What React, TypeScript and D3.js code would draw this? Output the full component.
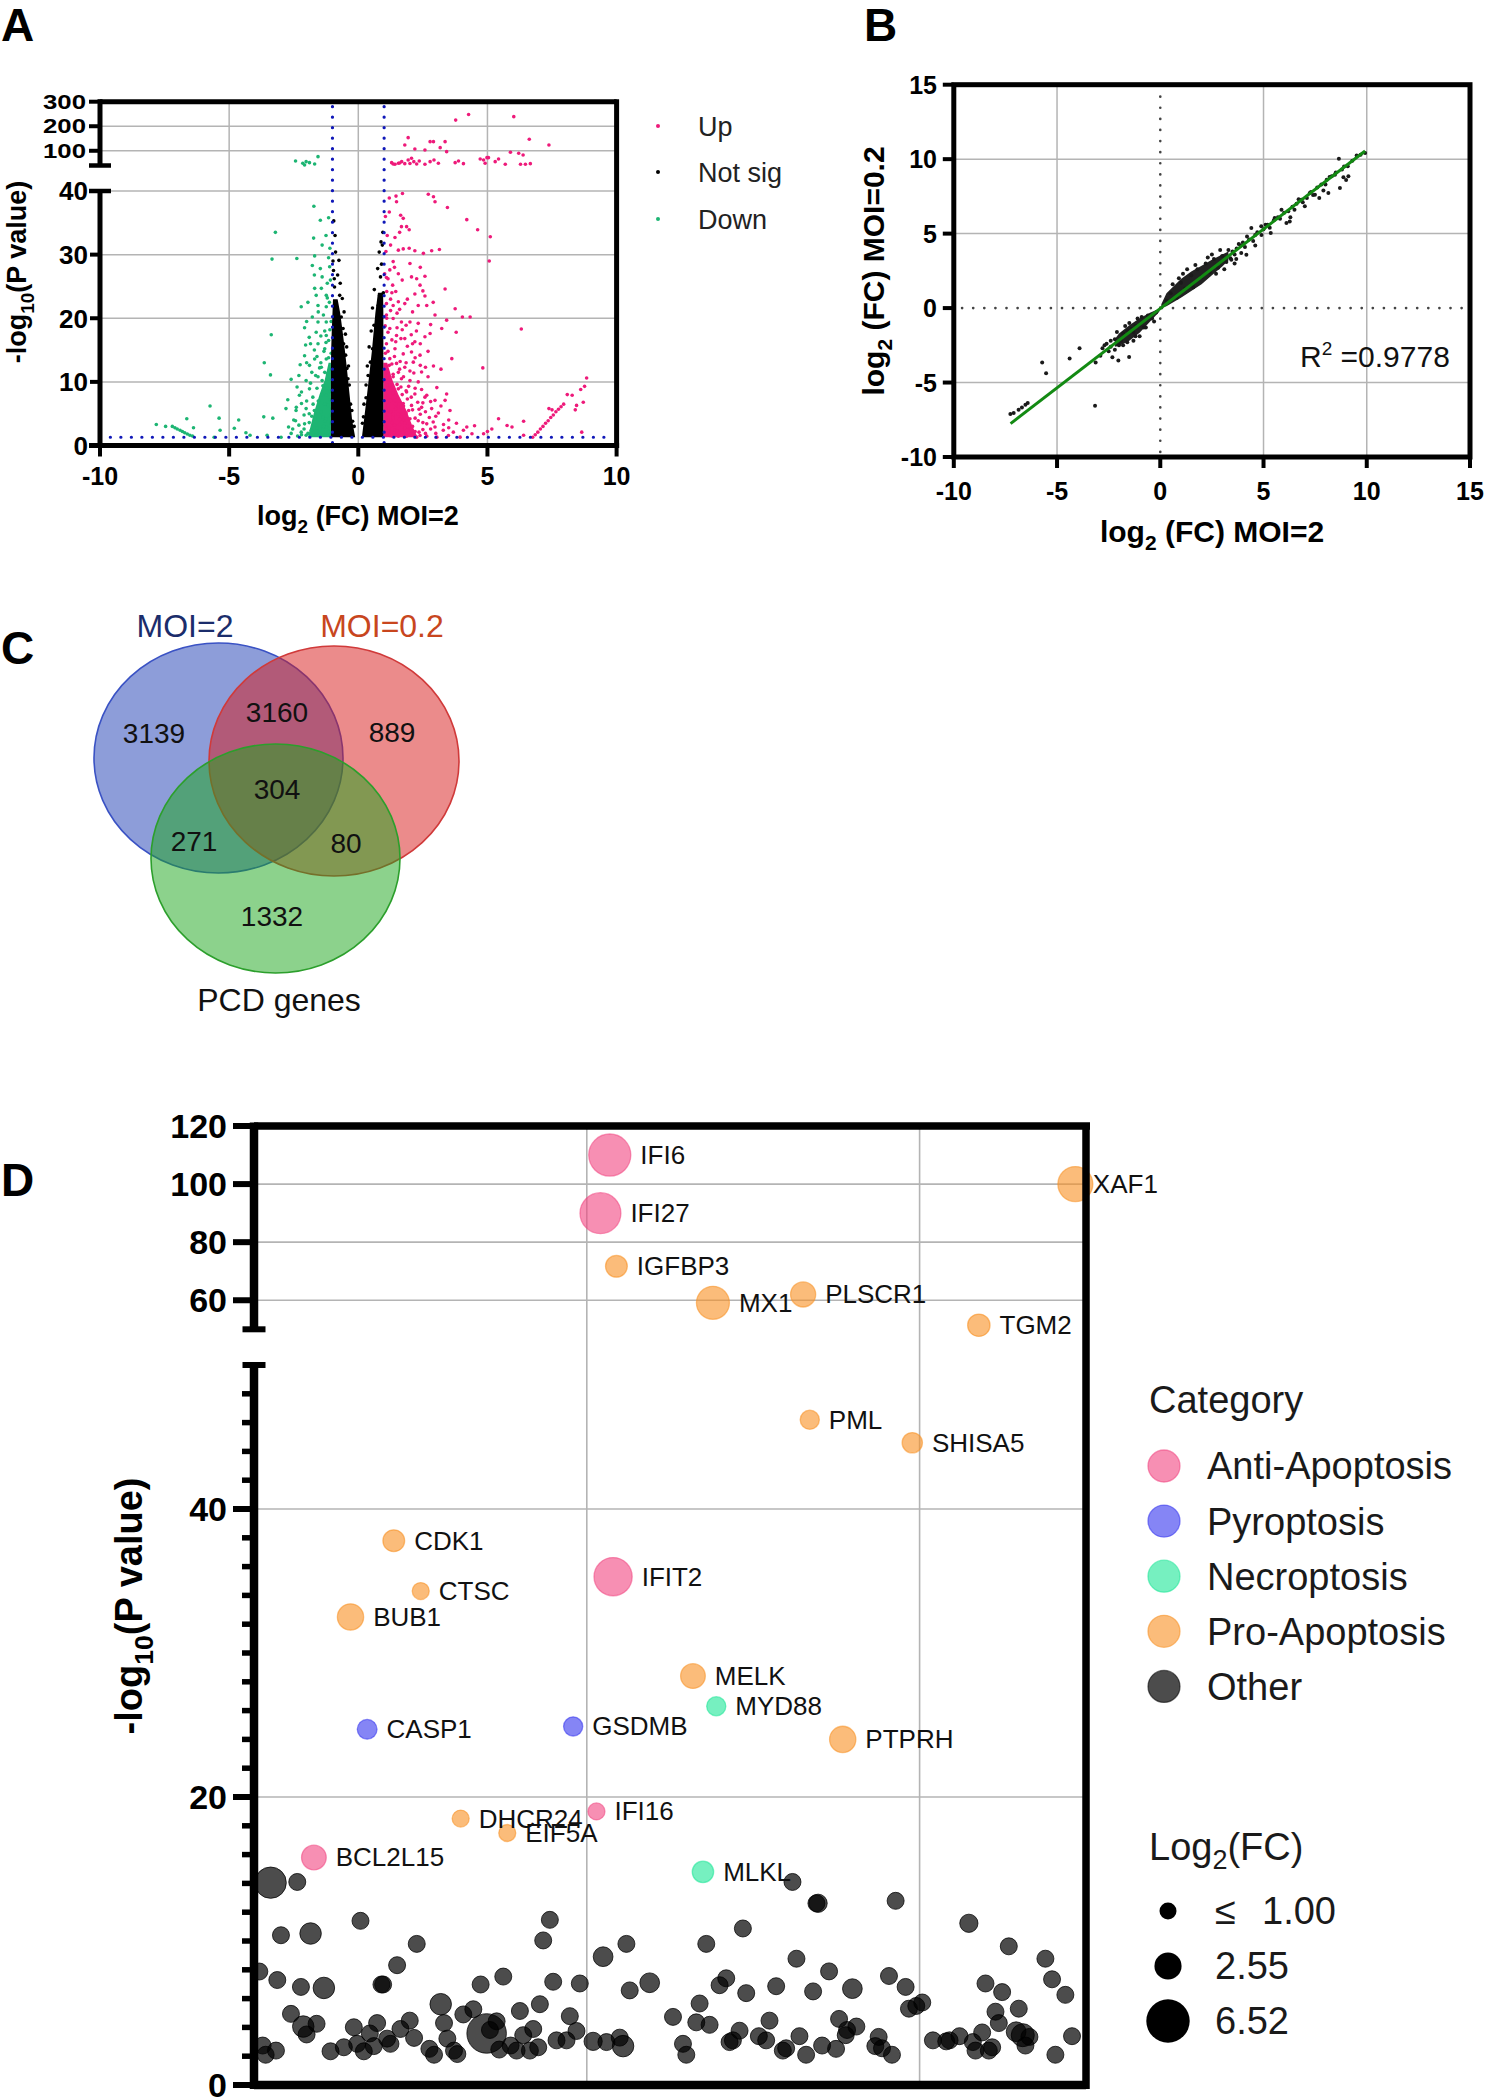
import React from "react";
import * as d3 from "d3";

const FONT = "'Liberation Sans', Arial, Helvetica, sans-serif";

// ---------------- Panel A: volcano (log2FC, -log10 P) ----------------
const volcanoTicksX = [-10, -5, 0, 5, 10];
const volcanoTicksLow = [0, 10, 20, 30, 40];
const volcanoTicksHigh = [100, 200, 300];
const volcanoLegend = ["Up", "Not sig", "Down"];

const volcanoUp: [number, number][] = [
  [1.29, 51.6], [1.42, 44.8], [1.55, 48.9], [1.68, 55.7], [1.8, 47.6], [1.93, 62.5], [2.06, 69.3], [2.15, 55.7],
  [2.26, 46.2], [2.36, 58.4], [2.58, 44.8], [2.78, 55.7], [2.93, 62.5], [3.1, 48.9], [3.75, 51.6], [3.88, 58.4],
  [4.07, 47.6], [4.72, 66.6], [4.91, 48.9], [5.04, 72], [5.3, 55.7], [5.43, 66.6], [5.69, 44.8], [5.89, 93.7],
  [6.21, 89.7], [6.38, 82.9], [6.47, 44.8], [6.66, 47.6], [4.85, 62.5], [6.28, 44.8], [1.8, 123.6], [1.93, 153.5],
  [2.19, 107.3], [2.58, 103.2], [2.78, 137.2], [2.91, 137.2], [3.17, 112.7], [3.36, 137.2], [3.42, 96.4],
  [3.77, 225], [4.27, 248], [6.02, 239], [6.62, 146.7], [7.38, 123.6], [4.98, 72], [1.35, 46], [1.6, 50], [2.0, 48],
  [1.2, 38.9], [1.46, 39.2], [1.71, 39.6], [1.48, 38.3], [2.71, 39.5], [2.91, 39.1], [2.97, 38.3], [3.45, 37.4],
  [1.2, 36.7], [1.64, 36.2], [1.74, 35.7], [1.67, 34.4], [1.87, 34.4], [1.97, 33.9], [4.2, 35.5], [4.62, 33.9],
  [5.11, 32.8], [1.42, 32.7], [5.07, 29.0], [1.55, 30.7], [1.74, 30.9], [1.97, 31.0], [2.19, 30.6], [2.52, 30.2],
  [2.84, 30.6], [3.14, 30.8], [1.35, 28.9], [1.55, 27.0], [1.22, 27.6], [1.09, 26.4], [1.33, 25.2], [2.06, 26.5],
  [2.26, 26.2], [2.58, 26.6], [2.39, 25.2], [2.19, 23.8], [2.58, 23.5], [3.36, 24.6], [1.09, 22.3], [1.35, 22.0],
  [1.55, 22.6], [1.8, 22.3], [2.32, 22.0], [2.65, 22.0], [3.75, 21.5], [1.09, 20.5], [1.35, 19.95], [1.67, 19.4],
  [2.0, 19.4], [2.32, 19.2], [2.97, 20.5], [3.23, 18.4], [3.42, 19.7], [4.03, 20.2], [4.33, 20.2], [3.79, 17.8],
  [6.31, 18.3], [1.22, 18.4], [1.48, 17.3], [1.8, 16.8], [2.19, 16.3], [2.58, 17.1], [2.78, 17.6], [1.09, 16.0],
  [1.42, 15.2], [1.74, 14.4], [2.06, 14.7], [2.39, 14.2], [2.91, 12.5], [3.62, 13.65], [4.82, 12.2], [1.22, 13.65],
  [1.48, 12.9], [1.8, 12.3], [2.13, 13.1], [2.45, 11.55], [1.09, 12.1], [1.35, 10.8], [1.67, 10.5], [2.0, 10.2],
  [2.32, 10.0], [3.04, 9.1], [3.42, 8.1], [1.22, 9.45], [1.55, 8.9], [1.87, 8.4], [2.19, 8.1], [2.58, 7.6],
  [2.97, 7.1], [3.36, 7.1], [3.55, 5.5], [1.09, 7.9], [1.42, 7.1], [1.74, 6.6], [2.06, 6.3], [2.45, 6.0], [2.84, 5.8],
  [1.09, 5.25], [1.35, 5.0], [1.67, 4.5], [2.0, 4.2], [2.32, 3.9], [2.65, 3.4], [2.97, 2.9], [3.29, 2.4], [3.68, 2.1],
  [4.07, 2.4], [4.4, 1.84], [4.85, 1.84], [5.43, 4.2], [5.76, 3.15], [5.95, 2.9], [6.4, 3.8], [8.65, 2.1], [5.17, 2.6],
  [1.09, 2.6], [1.42, 2.4], [1.74, 2.1], [2.06, 1.84], [2.39, 1.58], [1.22, 1.58], [1.55, 1.47], [1.87, 1.47],
  [2.26, 1.31], [2.65, 1.47], [3.04, 1.31], [3.49, 1.58], [3.94, 1.31],
  [1.05, 3.1], [1.1, 4.4], [1.15, 6.2], [1.25, 7.1], [1.3, 3.6], [1.4, 2.0], [1.45, 5.8], [1.5, 9.6], [1.6, 3.3],
  [1.65, 6.0], [1.7, 8.0], [1.8, 2.7], [1.85, 5.1], [1.9, 7.3], [2.0, 3.0], [2.1, 5.6], [2.2, 2.2], [2.3, 6.8],
  [2.4, 4.9], [2.5, 2.5], [2.6, 5.3], [2.75, 4.4], [2.9, 3.7], [3.1, 5.1], [1.05, 8.6], [1.12, 11.0], [1.2, 10.3],
  [1.3, 12.8], [1.05, 14.5], [1.15, 17.8], [1.25, 21.2], [1.1, 24.2], [1.4, 14.0], [1.55, 11.5], [1.02, 1.9],
  [1.08, 5.6], [1.18, 2.2], [1.35, 4.3], [1.58, 7.0], [1.75, 4.0], [1.95, 9.3], [2.15, 11.4], [1.62, 13.2],
  [1.9, 15.6], [2.45, 8.8], [2.7, 10.8], [2.25, 18.0], [3.2, 12.0], [1.02, 10.2], [1.04, 18.8], [1.02, 27.0],
  [1.07, 30.5], [1.12, 33.0], [1.05, 36.0], [1.3, 24.0], [1.5, 20.8], [1.7, 18.2], [2.1, 16.0], [2.7, 14.8],
  [1.1, 1.9], [1.2, 2.8], [1.3, 1.5], [1.4, 3.2], [1.5, 2.3], [1.6, 4.1], [1.7, 2.0], [1.8, 3.5], [1.9, 2.4],
  [2.0, 1.6], [2.1, 3.0], [2.2, 4.3], [2.35, 2.1], [2.5, 3.6], [2.6, 1.9], [2.8, 2.6], [3.0, 1.9], [3.3, 3.3],
  [3.5, 2.8], [3.8, 3.5], [4.2, 2.9], [4.5, 3.1], [1.1, 6.8], [1.25, 5.3], [1.35, 8.2], [1.45, 6.5], [1.55, 4.9],
  [1.65, 9.2], [1.75, 6.2], [1.85, 8.6], [1.95, 5.5], [2.05, 7.6], [2.2, 9.0], [2.35, 5.7], [2.5, 6.7], [2.65, 7.9],
  [2.8, 6.9], [3.0, 4.6], [3.2, 6.2], [3.5, 4.0], [1.1, 9.5], [1.2, 12.6], [1.35, 11.2], [1.45, 16.3], [1.6, 12.0],
  [1.75, 10.8], [1.85, 13.0], [2.0, 11.7], [2.2, 13.8], [2.4, 12.6], [2.6, 12.3], [1.15, 14.8], [1.3, 16.6],
  [1.5, 18.5], [1.65, 16.8], [1.85, 18.9], [2.05, 17.4], [2.4, 16.0], [2.8, 19.0], [1.1, 20.0], [1.25, 23.0],
  [1.45, 24.2], [1.6, 21.4], [1.9, 23.0], [2.1, 21.0], [2.5, 24.3], [2.9, 22.5], [1.15, 26.2], [1.4, 28.0],
  [1.7, 26.0], [2.0, 28.6], [2.4, 28.0], [1.25, 31.5], [1.6, 33.5],
  [6.75, 1.3], [6.85, 1.7], [6.95, 2.1], [7.05, 2.6], [7.15, 3.0], [7.25, 3.5], [7.35, 3.9], [7.45, 4.4],
  [7.55, 4.8], [7.65, 5.3], [7.75, 5.7], [7.85, 6.1], [7.95, 6.5], [7.38, 5.8], [7.5, 5.6], [8.09, 8.0],
  [8.28, 7.9], [8.45, 6.3], [8.4, 5.6], [8.61, 8.8], [8.76, 9.3], [8.84, 10.6], [8.71, 6.8], [6.4, 1.6], [5.0, 2.2],
];

const volcanoDown: [number, number][] = [
  [-2.43, 58.4], [-2.15, 48.9], [-2.08, 42.1], [-1.89, 51.6], [-1.69, 46.2], [-1.56, 76.1], [-2.02, 55.7],
  [-1.72, 37.6], [-1.47, 35.4], [-1.15, 35.8], [-3.21, 33.5], [-1.73, 32.6], [-3.34, 29.3], [-2.38, 29.4],
  [-1.69, 29.8], [-1.78, 28.3], [-1.47, 27.8], [-1.11, 28.1], [-1.4, 31.5], [-1.69, 24.7], [-1.43, 24.7],
  [-1.63, 23.6], [-1.24, 23.6], [-2.21, 21.8], [-1.56, 22.0], [-1.24, 21.8], [-1.78, 20.2], [-1.56, 19.4],
  [-1.24, 19.4], [-2.08, 18.5], [-1.63, 17.8], [-1.24, 17.3], [-3.37, 17.4], [-2.04, 15.8], [-1.56, 16.0],
  [-1.3, 15.2], [-2.08, 14.1], [-1.69, 13.6], [-1.24, 13.6], [-2.25, 12.7], [-1.89, 12.6], [-1.43, 12.3],
  [-3.64, 13.0], [-3.4, 11.1], [-2.6, 10.4], [-2.02, 10.2], [-1.56, 10.8], [-1.18, 10.5], [-2.37, 9.2],
  [-1.89, 8.9], [-1.37, 9.4], [-2.73, 7.2], [-2.28, 7.9], [-1.76, 7.6], [-1.24, 7.9], [-2.41, 5.5], [-2.02, 5.8],
  [-1.56, 6.0], [-1.18, 6.3], [-2.43, 3.9], [-2.08, 3.4], [-1.69, 4.2], [-1.37, 4.5], [-1.11, 4.7], [-2.54, 2.6],
  [-2.21, 2.1], [-1.82, 2.4], [-1.5, 2.6], [-1.24, 2.9], [-1.11, 1.8], [-2.02, 1.6], [-1.63, 1.7], [-1.3, 1.6],
  [-7.82, 3.3], [-7.46, 3.0], [-7.2, 3.0], [-7.1, 2.8], [-7.01, 2.6], [-6.9, 2.4], [-6.81, 2.2], [-6.72, 2.0],
  [-6.62, 1.8], [-6.52, 1.6], [-6.42, 1.5], [-6.38, 2.8], [-6.64, 4.2], [-5.74, 6.2], [-5.39, 4.3], [-5.35, 2.4],
  [-5.58, 1.3], [-4.8, 2.7], [-4.63, 4.0], [-4.35, 2.0], [-4.19, 1.6], [-3.66, 4.5], [-3.31, 4.3], [-3.53, 1.6],
  [-2.99, 1.3], [-1.05, 3.5], [-1.15, 2.2], [-1.35, 3.0], [-1.45, 5.2], [-1.6, 2.8], [-1.75, 6.5], [-1.9, 3.6],
  [-2.1, 4.8], [-2.3, 3.2], [-1.2, 9.0], [-1.1, 12.0], [-1.3, 11.5], [-1.05, 14.5], [-1.4, 8.0], [-1.55, 7.0],
  [-1.65, 11.0], [-1.85, 9.8], [-2.2, 6.6], [-1.95, 1.9], [-2.35, 1.5], [-1.02, 5.8], [-1.08, 7.2], [-1.25, 4.2],
  [-1.5, 1.9], [-1.8, 4.6], [-2.6, 1.9], [-1.12, 22.5], [-1.08, 26], [-1.2, 25.5], [-1.33, 14.8], [-1.05, 19.5],
  [-1.15, 16.5], [-1.1, 31.0], [-1.3, 18.0], [-1.45, 13.0], [-1.7, 15.0], [-1.9, 17.0],
  [-1.1, 8.5], [-1.2, 11.3], [-1.3, 6.5], [-1.4, 10.2], [-1.5, 12.2], [-1.6, 9.0], [-1.7, 5.5], [-1.8, 11.5],
  [-2.0, 7.0], [-2.2, 8.4], [-2.4, 6.0], [-1.15, 13.8], [-1.25, 16.2], [-1.45, 17.2], [-1.6, 14.0], [-1.85, 16.0],
  [-2.0, 13.0], [-1.1, 18.2], [-1.35, 20.5], [-1.55, 21.0], [-1.95, 22.5], [-1.2, 23.2], [-1.4, 26.5],
  [-1.7, 26.8], [-1.15, 29.5], [-1.25, 33.0], [-2.0, 19.5], [-2.3, 11.0], [-2.5, 4.0], [-2.7, 2.9], [-2.8, 5.8],
  [-2.2, 1.7], [-1.9, 5.0], [-2.1, 2.6], [-1.3, 3.8],
];

const volcanoNotSig: [number, number][] = [
  [-0.95, 35.3], [-0.88, 30.4], [-0.75, 29.1], [-0.92, 24.9], [-0.72, 23.6], [-0.62, 23.1], [-0.85, 20.4],
  [-0.66, 20.2], [-0.59, 18.4], [-0.57, 16.0], [-0.49, 14.2], [-0.79, 13.6], [-0.44, 12.1], [-0.4, 10.5],
  [-0.96, 27.5], [-0.9, 33.0], [-0.3, 6.5], [-0.22, 3.8], [-0.98, 29.0], [-0.93, 26.2], [-0.8, 26.8],
  [-0.7, 25.5], [-0.9, 22.3], [-0.55, 21.0], [-0.5, 17.5], [-0.45, 15.5], [-0.38, 12.5], [-0.35, 9.5],
  [-0.25, 5.5], [-0.16, 3.0],
  [0.93, 31.5], [0.81, 30.4], [0.86, 26.5], [0.83, 23.6], [0.77, 22.0], [0.93, 20.2], [0.61, 18.9], [0.7, 17.3],
  [0.55, 15.2], [0.47, 13.1], [0.38, 11.0], [0.9, 28.5], [0.2, 4.5], [0.3, 7.5], [0.95, 33.5], [0.88, 32.0],
  [0.75, 27.8], [0.62, 24.5], [0.55, 21.6], [0.5, 18.0], [0.42, 15.5], [0.35, 12.5], [0.3, 9.5], [0.22, 6.5],
  [0.16, 3.5], [0.97, 24.0], [0.85, 18.5],
];
// dense cores of the point clouds: [-log10 P, log2FC from, log2FC to]
const notSigLeftCore: [number, number, number][] = [
  [1.3, -1.06, -0.12], [4, -1.06, -0.24], [7.7, -1.06, -0.33], [12.4, -1.06, -0.45], [15, -1.05, -0.52],
  [17.7, -1.03, -0.6], [20.8, -1.0, -0.7], [23, -0.98, -0.8],
];
const notSigRightCore: [number, number, number][] = [
  [1.3, 0.14, 0.97], [4, 0.22, 0.97], [7.7, 0.33, 0.97], [12.4, 0.46, 0.97], [15, 0.53, 0.97], [17.7, 0.59, 0.97],
  [20.8, 0.66, 0.97], [24, 0.76, 0.96],
];
const upCore: [number, number, number][] = [[1.3, 0.97, 2.3], [3, 0.97, 2.1], [5.6, 0.97, 1.85], [8, 0.97, 1.55], [10.3, 0.97, 1.32], [13, 0.97, 1.12]];
const downCore: [number, number, number][] = [[1.3, -1.95, -1.06], [3, -1.85, -1.06], [5.1, -1.72, -1.06], [8, -1.5, -1.06], [10.3, -1.3, -1.06], [13, -1.15, -1.06]];

// ---------------- Panel B: MOI=2 vs MOI=0.2 ----------------
const corrTicks = [-10, -5, 0, 5, 10, 15];
const corrFit = { slope: 1.066, intercept: -0.03, from: -7.25, to: 9.92, r2: "0.9778" };
const corrPoints: [number, number][] = [
  [-7.26, -7.12], [-7.1, -7.05], [-6.86, -6.83], [-6.7, -6.67], [-6.53, -6.49], [-6.42, -6.38],
  [-5.72, -3.65], [-5.53, -4.37], [-4.39, -3.38], [-3.91, -2.69], [-3.16, -6.56], [-3.13, -3.65], [-2.32, -3.31],
  [-2.03, -3.52], [-1.51, -3.29], [-2.6, -2.4], [-2.4, -2.6], [-2.2, -2.1], [-2.0, -2.5], [-1.8, -1.7], [-1.9, -2.2],
  [-1.6, -2.3], [-1.4, -1.4], [-1.2, -1.9], [-1.0, -1.1], [-0.8, -1.3], [-0.6, -0.5], [-1.7, -1.2], [-2.1, -1.6],
  [-1.3, -2.2], [-1.5, -1.0], [-0.4, -0.7], [-0.2, -0.3], [-1.1, -0.7], [-2.5, -2.9], [-2.8, -2.7],
  [-0.3, -0.9], [-0.7, -1.3], [-1.0, -1.9], [-1.3, -1.6], [-1.6, -1.5], [-1.8, -2.5], [-2.2, -2.8], [-2.4, -2.2],
  [-2.7, -2.5], [-0.9, -0.6], [-1.2, -1.2], [-2.9, -3.2],
  [0.3, 0.5], [0.5, 1.0], [0.8, 0.7], [1.0, 1.7], [1.2, 1.3], [1.5, 2.2], [1.6, 1.4], [1.8, 2.6], [2.0, 2.1],
  [2.2, 3.0], [2.4, 2.4], [2.6, 3.3], [2.8, 2.7], [3.0, 3.5], [3.2, 3.1], [1.3, 2.6], [0.9, 2.0], [2.5, 3.6],
  [3.5, 3.8], [3.4, 3.35], [3.7, 4.0], [4.0, 4.4], [3.44, 3.25], [3.68, 3.29], [3.92, 3.7], [4.17, 3.58],
  [4.41, 5.38], [4.89, 5.49], [5.35, 5.04], [5.54, 6.05], [5.87, 6.61], [6.11, 5.71], [6.27, 5.82], [6.84, 7.28],
  [7.0, 6.83], [7.24, 7.73], [7.49, 7.61], [8.06, 8.62], [8.14, 7.73], [8.3, 8.85], [8.46, 8.96], [8.7, 8.06],
  [8.87, 8.78], [9.11, 8.85], [9.08, 9.52], [8.65, 10.03], [9.51, 10.24], [9.92, 10.41], [4.6, 4.9], [5.0, 5.3],
  [5.2, 5.6], [5.7, 6.1], [6.0, 6.4], [6.4, 6.8], [6.6, 7.0], [7.3, 7.8], [7.6, 8.1], [7.8, 8.3], [8.2, 8.8],
  [8.5, 9.1], [8.9, 9.5], [9.3, 9.9], [9.7, 10.3], [4.3, 4.6], [3.9, 4.2], [7.1, 7.4], [7.9, 7.9],
  [3.3, 3.9], [3.6, 3.6], [3.8, 4.3], [4.1, 4.1], [4.2, 4.8], [4.5, 4.5], [4.7, 5.1], [4.9, 4.9], [5.1, 5.6],
  [5.3, 5.4], [5.5, 5.9], [5.8, 6.0], [6.2, 6.5], [6.5, 6.6], [6.7, 7.3], [6.9, 7.1], [2.9, 3.9], [2.3, 3.4],
  [1.7, 2.9], [1.1, 2.3], [0.6, 1.6], [2.7, 2.3], [3.1, 2.6], [3.6, 3.0], [4.6, 4.2], [6.3, 6.1], [7.4, 7.6],
  [7.7, 7.4], [8.0, 8.3], [8.8, 9.3], [9.0, 8.6],
];
// dense cores: [x, y from, y to]
const corrCoreUp: [number, number, number][] = [[0.05, 0.02, 0.25], [0.3, 0.12, 1.0], [1.0, 0.7, 1.95], [1.5, 1.15, 2.45], [2.0, 1.6, 2.85], [2.5, 2.2, 3.25], [3.0, 2.8, 3.6], [3.3, 3.2, 3.8]];
const corrCoreDown: [number, number, number][] = [[-0.05, -0.05, -0.25], [-0.5, -0.32, -0.92], [-1.0, -0.68, -1.65], [-1.5, -1.15, -2.2], [-2.0, -1.7, -2.55], [-2.2, -2.1, -2.6]];

// ---------------- Panel C: Venn counts ----------------
const vennSets = ["MOI=2", "MOI=0.2", "PCD genes"];
const vennCounts = { only2: 3139, both: 3160, only02: 889, all: 304, twoPcd: 271, o2Pcd: 80, pcdOnly: 1332 };

// ---------------- Panel D: bubble plot ----------------
const bubbleTicksHigh = [60, 80, 100, 120];
const bubbleTicksLow = [0, 20, 40];
const categories = ["Anti-Apoptosis", "Pyroptosis", "Necroptosis", "Pro-Apoptosis", "Other"];
const catColors: Record<string, string> = {
  "Anti-Apoptosis": "#F14480",
  Pyroptosis: "#3434EE",
  Necroptosis: "#1AE696",
  "Pro-Apoptosis": "#F88F21",
  Other: "#000000",
};
const sizeLegendValues = [1.0, 2.55, 6.52];
const sizeLegendLabels = ["1.00", "2.55", "6.52"];

// gene, position index, -log10 P, log2FC, category
const labeledGenes: [string, number, number, number, string][] = [
  ["IFI6", 1.069, 110, 6.13, "Anti-Apoptosis"],
  ["IFI27", 1.041, 90, 5.79, "Anti-Apoptosis"],
  ["IGFBP3", 1.089, 71.7, 1.64, "Pro-Apoptosis"],
  ["MX1", 1.379, 59.1, 3.77, "Pro-Apoptosis"],
  ["PLSCR1", 1.65, 62, 2.18, "Pro-Apoptosis"],
  ["TGM2", 2.178, 51.4, 1.73, "Pro-Apoptosis"],
  ["XAF1", 2.468, 100, 4.24, "Pro-Apoptosis"],
  ["PML", 1.67, 46.2, 1.27, "Pro-Apoptosis"],
  ["SHISA5", 1.978, 44.6, 1.43, "Pro-Apoptosis"],
  ["IFIT2", 1.079, 35.3, 5.04, "Anti-Apoptosis"],
  ["CDK1", 0.42, 37.8, 1.64, "Pro-Apoptosis"],
  ["CTSC", 0.501, 34.3, 1.0, "Pro-Apoptosis"],
  ["BUB1", 0.29, 32.5, 2.39, "Pro-Apoptosis"],
  ["CASP1", 0.34, 24.7, 1.35, "Pyroptosis"],
  ["GSDMB", 0.959, 24.9, 1.27, "Pyroptosis"],
  ["DHCR24", 0.621, 18.5, 1.0, "Pro-Apoptosis"],
  ["EIF5A", 0.761, 17.5, 1.0, "Pro-Apoptosis"],
  ["IFI16", 1.029, 19.0, 1.0, "Anti-Apoptosis"],
  ["BCL2L15", 0.18, 15.8, 2.11, "Anti-Apoptosis"],
  ["MELK", 1.319, 28.4, 2.11, "Pro-Apoptosis"],
  ["MYD88", 1.389, 26.3, 1.27, "Necroptosis"],
  ["PTPRH", 1.769, 24.0, 2.39, "Pro-Apoptosis"],
  ["MLKL", 1.349, 14.8, 1.58, "Necroptosis"],
];

// other genes: position index, -log10 P, log2FC
const otherGenes: [number, number, number][] = [
  [0.05, 14.05, 3.4], [0.13, 14.1, 1], [0.32, 11.4, 1], [0.081, 10.4, 1], [0.17, 10.52, 1.6], [0.489, 9.8, 1],
  [0.889, 11.47, 1], [0.869, 10.04, 1], [1.119, 9.8, 1], [1.049, 8.91, 1.35], [0.016, 7.88, 1], [0.07, 7.29, 1],
  [0.141, 6.81, 1], [0.21, 6.74, 1.6], [0.43, 8.32, 1], [0.383, 6.98, 1], [0.388, 6.98, 1], [0.681, 6.98, 1],
  [0.749, 7.53, 1], [0.899, 7.17, 1], [0.979, 7.05, 1], [1.129, 6.57, 1], [1.189, 7.1, 1.35], [0.561, 5.61, 1.6],
  [0.859, 5.61, 1], [0.111, 4.94, 1], [0.148, 4.06, 1.6], [0.188, 4.25, 1], [0.158, 3.51, 1], [0.3, 4.01, 1],
  [0.37, 4.3, 1], [0.348, 3.58, 1], [0.468, 4.47, 1], [0.44, 3.89, 1], [0.571, 4.3, 1], [0.629, 4.9, 1],
  [0.659, 5.26, 1], [0.799, 5.14, 1], [0.949, 4.78, 1], [0.699, 3.58, 5.4], [0.709, 3.82, 1], [0.729, 4.42, 1],
  [0.809, 3.46, 1], [0.839, 3.89, 1], [0.969, 3.75, 1], [0.481, 3.27, 1], [0.4, 3.22, 1], [0.41, 2.86, 1],
  [0.581, 3.22, 1], [0.026, 2.74, 1], [0.035, 2.1, 1], [0.066, 2.39, 1], [0.23, 2.34, 1], [0.27, 2.62, 1],
  [0.31, 2.86, 1], [0.33, 2.34, 1], [0.36, 2.7, 1], [0.527, 2.51, 1], [0.541, 2.1, 1], [0.601, 2.39, 1],
  [0.611, 2.15, 1], [0.737, 2.46, 1], [0.771, 2.74, 1], [0.789, 2.39, 1], [0.829, 2.39, 1], [0.854, 2.62, 1],
  [0.909, 3.1, 1], [0.939, 3.1, 1], [1.019, 3.03, 1.15], [1.059, 2.98, 1], [1.099, 3.29, 1], [1.109, 2.7, 1.6],
  [1.618, 14.1, 1], [1.695, 12.62, 1.15], [1.69, 12.62, 1], [1.928, 12.79, 1], [1.469, 10.87, 1], [1.359, 9.8, 1],
  [2.148, 11.23, 1.15], [2.268, 9.63, 1], [2.378, 8.77, 1], [2.398, 7.34, 1], [2.438, 6.26, 1], [1.63, 8.77, 1],
  [1.728, 7.89, 1], [1.908, 7.57, 1], [1.958, 6.81, 1], [2.198, 7.05, 1], [2.248, 6.45, 1], [1.419, 7.41, 1],
  [1.399, 6.93, 1], [1.479, 6.38, 1], [1.569, 6.86, 1], [1.68, 6.5, 1], [1.798, 6.69, 1.35], [1.339, 5.66, 1],
  [1.259, 4.73, 1], [1.329, 4.35, 1], [1.369, 4.18, 1], [1.549, 4.47, 1], [1.459, 3.77, 1], [1.968, 5.3, 1],
  [2.008, 5.73, 1], [1.99, 5.49, 1], [2.228, 5.09, 1], [2.238, 4.3, 1], [2.298, 5.3, 1], [2.29, 3.7, 1.35],
  [2.31, 3.46, 1.84], [2.33, 3.34, 1], [1.758, 4.59, 1], [1.782, 3.82, 1], [1.81, 4.06, 1], [1.778, 3.46, 1],
  [1.289, 2.86, 1], [1.299, 2.1, 1], [1.429, 2.98, 1], [1.439, 3.1, 1], [1.517, 3.39, 1], [1.539, 3.1, 1],
  [1.589, 2.39, 1], [1.599, 2.55, 1], [1.639, 3.39, 1], [1.659, 2.1, 1], [1.707, 2.74, 1], [1.749, 2.51, 1],
  [1.877, 3.34, 1], [1.867, 2.7, 1], [1.887, 2.55, 1], [1.917, 2.1, 1], [2.04, 3.1, 1], [2.08, 3.03, 1],
  [2.09, 3.1, 1], [2.12, 3.39, 1], [2.16, 2.98, 1], [2.168, 2.39, 1], [2.188, 3.65, 1], [2.208, 2.39, 1],
  [2.218, 2.62, 1], [2.318, 2.74, 1], [2.408, 2.1, 1], [2.458, 3.39, 1],
];

const C_UP = "#EE1A7A";
const C_DOWN = "#1DB573";
const C_NS = "#000000";
const C_GRID = "#b4b4b4";

function Log2Title({ x, y, size, rotate, tail }: { x: number; y: number; size: number; rotate?: boolean; tail: string }) {
  return (
    <text x={x} y={y} fontSize={size} fontWeight="bold" textAnchor="middle" fontFamily={FONT}
      transform={rotate ? `rotate(-90 ${x} ${y})` : undefined}>
      log<tspan fontSize={size * 0.7} dy={size * 0.28}>2</tspan>
      <tspan dy={-size * 0.28}>{" " + tail}</tspan>
    </text>
  );
}

function PTitle({ x, y, size }: { x: number; y: number; size: number }) {
  return (
    <text x={x} y={y} fontSize={size} fontWeight="bold" textAnchor="middle" fontFamily={FONT}
      transform={`rotate(-90 ${x} ${y})`}>
      -log<tspan fontSize={size * 0.7} dy={size * 0.28}>10</tspan>
      <tspan dy={-size * 0.28}>(P value)</tspan>
    </text>
  );
}

export default function App() {
  // ---- A scales
  const aX = d3.scaleLinear().domain([-10, 10]).range([100, 616.6]);
  const aYLo = d3.scaleLinear().domain([0, 40]).range([445.5, 191]);
  const aYHi = d3.scaleLinear().domain([40, 300]).range([165.5, 101.7]);
  const aY = (v: number) => (v > 40 ? aYHi(v) : aYLo(v));
  const coreA = d3.area<[number, number, number]>().y((d) => aYLo(d[0])).x0((d) => aX(d[1])).x1((d) => aX(d[2]));

  // ---- B scales
  const bX = d3.scaleLinear().domain([-10, 15]).range([953.8, 1470]);
  const bY = d3.scaleLinear().domain([-10, 15]).range([457, 84.7]);
  const coreB = d3.area<[number, number, number]>().x((d) => bX(d[0])).y0((d) => bY(d[1])).y1((d) => bY(d[2]));
  const fitLine = d3.line<number>().x((d) => bX(d)).y((d) => bY(corrFit.slope * d + corrFit.intercept));

  // ---- D scales
  const dX = d3.scaleLinear().domain([0, 2.5]).range([254, 1086]);
  const dYLo = d3.scaleLinear().domain([0, 50]).range([2085, 1365]);
  const dYHi = d3.scaleLinear().domain([50, 120]).range([1329.3, 1126]);
  const dY = (v: number) => (v > 50 ? dYHi(v) : dYLo(v));
  const rScale = d3.scaleSqrt().domain([0, 6.52]).range([0, 21.7]);
  const rad = (fc: number) => rScale(Math.max(fc, 1));
  const minorLow = d3.range(2, 50, 2).filter((v) => v % 20 !== 0);

  const legendDotY = [126, 172, 219];
  const legendColors = [C_UP, C_NS, C_DOWN];

  return (
    <div style={{ position: "absolute", left: 0, top: 0 }}>
      <svg width={1485} height={2100} viewBox="0 0 1485 2100" fontFamily={FONT} style={{ display: "block", background: "#fff" }}>
        {/* ================= Panel A ================= */}
        <text x={1} y={41} fontSize={46} fontWeight="bold">A</text>
        <g>
          {[-5, 0, 5].map((t) => (
            <line key={"agv" + t} x1={aX(t)} x2={aX(t)} y1={aYHi(300)} y2={aYLo(0)} stroke={C_GRID} strokeWidth={1.5} />
          ))}
          {[10, 20, 30, 40].map((t) => (
            <line key={"agl" + t} x1={aX(-10)} x2={aX(10)} y1={aYLo(t)} y2={aYLo(t)} stroke={C_GRID} strokeWidth={1.5} />
          ))}
          {[100, 200].map((t) => (
            <line key={"agh" + t} x1={aX(-10)} x2={aX(10)} y1={aYHi(t)} y2={aYHi(t)} stroke={C_GRID} strokeWidth={1.5} />
          ))}
          {/* dense cores */}
          <path d={coreA(downCore) || ""} fill={C_DOWN} />
          <path d={coreA(upCore) || ""} fill={C_UP} />
          {volcanoDown.map((d, i) => (
            <circle key={"vd" + i} cx={aX(d[0])} cy={aY(d[1])} r={1.8} fill={C_DOWN} />
          ))}
          {volcanoUp.map((d, i) => (
            <circle key={"vu" + i} cx={aX(d[0])} cy={aY(d[1])} r={1.8} fill={C_UP} />
          ))}
          <path d={coreA(notSigLeftCore) || ""} fill={C_NS} />
          <path d={coreA(notSigRightCore) || ""} fill={C_NS} />
          {volcanoNotSig.map((d, i) => (
            <circle key={"vn" + i} cx={aX(d[0])} cy={aY(d[1])} r={1.8} fill={C_NS} />
          ))}
          {/* thresholds */}
          {[-1, 1].map((t) => (
            <line key={"thr" + t} x1={aX(t)} x2={aX(t)} y1={aYHi(280)} y2={aYLo(0)} stroke="#1018b8" strokeWidth={3.2}
              strokeLinecap="round" strokeDasharray="0.1 10.4" />
          ))}
          <line x1={aX(-9.6)} x2={aX(9.7)} y1={aYLo(1.3)} y2={aYLo(1.3)} stroke="#1018b8" strokeWidth={3.2}
            strokeLinecap="round" strokeDasharray="0.1 10.4" />
          {/* frame */}
          <line x1={aX(-10)} x2={aX(10)} y1={aYHi(300)} y2={aYHi(300)} stroke="#000" strokeWidth={5} />
          <line x1={aX(10)} x2={aX(10)} y1={aYHi(300) - 2.5} y2={aYLo(0) + 2.5} stroke="#000" strokeWidth={5} />
          <line x1={aX(-10) - 11} x2={aX(10) + 2.5} y1={aYLo(0)} y2={aYLo(0)} stroke="#000" strokeWidth={5} />
          <line x1={aX(-10)} x2={aX(-10)} y1={aYHi(300) - 2.5} y2={aYHi(40)} stroke="#000" strokeWidth={5} />
          <line x1={aX(-10)} x2={aX(-10)} y1={aYLo(40)} y2={aYLo(0)} stroke="#000" strokeWidth={5} />
          <line x1={aX(-10) - 11} x2={aX(-10) + 11} y1={aYHi(40)} y2={aYHi(40)} stroke="#000" strokeWidth={4.5} />
          <line x1={aX(-10) - 11} x2={aX(-10) + 11} y1={aYLo(40)} y2={aYLo(40)} stroke="#000" strokeWidth={4.5} />
          {volcanoTicksHigh.map((t) => (
            <g key={"ath" + t}>
              <line x1={aX(-10) - 11} x2={aX(-10)} y1={aYHi(t)} y2={aYHi(t)} stroke="#000" strokeWidth={4} />
              <text x={86} y={aYHi(t)} dy="0.36em" fontSize={20} fontWeight="bold" textAnchor="end" textLength={43}
                lengthAdjust="spacingAndGlyphs">{t}</text>
            </g>
          ))}
          {volcanoTicksLow.map((t) => (
            <g key={"atl" + t}>
              <line x1={aX(-10) - 10} x2={aX(-10)} y1={aYLo(t)} y2={aYLo(t)} stroke="#000" strokeWidth={4} />
              <text x={88} y={aYLo(t)} dy="0.36em" fontSize={26} fontWeight="bold" textAnchor="end">{t}</text>
            </g>
          ))}
          {volcanoTicksX.map((t) => (
            <g key={"atx" + t}>
              <line x1={aX(t)} x2={aX(t)} y1={aYLo(0)} y2={aYLo(0) + 11} stroke="#000" strokeWidth={4} />
              <text x={aX(t)} y={485} fontSize={25} fontWeight="bold" textAnchor="middle">{t}</text>
            </g>
          ))}
          <Log2Title x={358} y={525} size={27} tail="(FC) MOI=2" />
          <PTitle x={26} y={272} size={27} />
          {volcanoLegend.map((l, i) => (
            <g key={"al" + l}>
              <circle cx={658} cy={legendDotY[i]} r={2} fill={legendColors[i]} />
              <text x={698} y={legendDotY[i] + 9.5} fontSize={27} fill="#222">{l}</text>
            </g>
          ))}
        </g>

        {/* ================= Panel B ================= */}
        <text x={864} y={41} fontSize={46} fontWeight="bold">B</text>
        <g>
          {[-5, 5, 10].map((t) => (
            <line key={"bgv" + t} x1={bX(t)} x2={bX(t)} y1={bY(15)} y2={bY(-10)} stroke={C_GRID} strokeWidth={1.5} />
          ))}
          {[-5, 5, 10].map((t) => (
            <line key={"bgh" + t} x1={bX(-10)} x2={bX(15)} y1={bY(t)} y2={bY(t)} stroke={C_GRID} strokeWidth={1.5} />
          ))}
          <line x1={bX(0)} x2={bX(0)} y1={bY(14.2)} y2={bY(-10)} stroke="#444" strokeWidth={2.6} strokeLinecap="round" strokeDasharray="0.1 11" />
          <line x1={bX(-9.6)} x2={bX(15)} y1={bY(0)} y2={bY(0)} stroke="#444" strokeWidth={2.6} strokeLinecap="round" strokeDasharray="0.1 11" />
          <path d={coreB(corrCoreUp) || ""} fill="#222" />
          <path d={coreB(corrCoreDown) || ""} fill="#222" />
          {corrPoints.map((d, i) => (
            <circle key={"bp" + i} cx={bX(d[0])} cy={bY(d[1])} r={2} fill="#1a1a1a" />
          ))}
          <path d={fitLine([corrFit.from, corrFit.to]) || ""} stroke="#138a13" strokeWidth={3} fill="none" />
          {/* frame */}
          <rect x={bX(-10)} y={bY(15)} width={bX(15) - bX(-10)} height={bY(-10) - bY(15)} fill="none" stroke="#000" strokeWidth={5} />
          {corrTicks.map((t) => (
            <g key={"bt" + t}>
              <line x1={bX(-10) - 11} x2={bX(-10)} y1={bY(t)} y2={bY(t)} stroke="#000" strokeWidth={4} />
              <text x={937} y={bY(t)} dy="0.36em" fontSize={25} fontWeight="bold" textAnchor="end">{t}</text>
              <line x1={bX(t)} x2={bX(t)} y1={bY(-10)} y2={bY(-10) + 11} stroke="#000" strokeWidth={4} />
              <text x={bX(t)} y={500} fontSize={25} fontWeight="bold" textAnchor="middle">{t}</text>
            </g>
          ))}
          <text x={1300} y={367} fontSize={30} fill="#111">
            R<tspan fontSize={19} dy={-12}>2</tspan>
            <tspan dy={12}>{" =" + corrFit.r2}</tspan>
          </text>
          <Log2Title x={1212} y={542} size={30} tail="(FC) MOI=2" />
          <Log2Title x={884} y={271} size={30} rotate tail="(FC) MOI=0.2" />
        </g>

        {/* ================= Panel C ================= */}
        <text x={1} y={664} fontSize={46} fontWeight="bold">C</text>
        <g>
          <ellipse cx={218.5} cy={758} rx={124.5} ry={115} fill="#1c3cb4" fillOpacity={0.5} stroke="#3a52c4" strokeWidth={1.6} />
          <ellipse cx={334} cy={761} rx={125} ry={115} fill="#d81818" fillOpacity={0.5} stroke="#d03a3a" strokeWidth={1.6} />
          <ellipse cx={275.5} cy={858.5} rx={124.5} ry={114.5} fill="#1aa51a" fillOpacity={0.5} stroke="#2c9f2c" strokeWidth={1.6} />
          <text x={185} y={637} fontSize={32} fill="#1b2d6b" textAnchor="middle">{vennSets[0]}</text>
          <text x={382} y={637} fontSize={32} fill="#c8461e" textAnchor="middle">{vennSets[1]}</text>
          <text x={279} y={1011} fontSize={32} fill="#111" textAnchor="middle">{vennSets[2]}</text>
          {[
            [vennCounts.only2, 154, 733],
            [vennCounts.both, 277, 712],
            [vennCounts.only02, 392, 732],
            [vennCounts.all, 277, 789],
            [vennCounts.twoPcd, 194, 841],
            [vennCounts.o2Pcd, 346, 843],
            [vennCounts.pcdOnly, 272, 916],
          ].map((d, i) => (
            <text key={"vc" + i} x={d[1]} y={d[2] + 10} fontSize={28} fill="#111" textAnchor="middle">{d[0]}</text>
          ))}
        </g>

        {/* ================= Panel D ================= */}
        <text x={1} y={1196} fontSize={46} fontWeight="bold">D</text>
        <g>
          {[1, 2].map((t) => (
            <line key={"dgv" + t} x1={dX(t)} x2={dX(t)} y1={dYHi(120)} y2={dYLo(0)} stroke={C_GRID} strokeWidth={1.6} />
          ))}
          {[60, 80, 100].map((t) => (
            <line key={"dgh" + t} x1={dX(0)} x2={dX(2.5)} y1={dYHi(t)} y2={dYHi(t)} stroke={C_GRID} strokeWidth={1.6} />
          ))}
          {[20, 40].map((t) => (
            <line key={"dgl" + t} x1={dX(0)} x2={dX(2.5)} y1={dYLo(t)} y2={dYLo(t)} stroke={C_GRID} strokeWidth={1.6} />
          ))}
          {otherGenes.map((d, i) => (
            <circle key={"og" + i} cx={dX(d[0])} cy={dY(d[1])} r={rad(d[2])} fill="#000" fillOpacity={0.7}
              stroke="#000" strokeOpacity={0.75} strokeWidth={1} />
          ))}
          {labeledGenes.map((d) => (
            <circle key={"lg" + d[0]} cx={dX(d[1])} cy={dY(d[2])} r={rad(d[3])} fill={catColors[d[4]]} fillOpacity={0.6}
              stroke={catColors[d[4]]} strokeOpacity={0.55} strokeWidth={1.3} />
          ))}
          {labeledGenes.map((d) => (
            <text key={"lt" + d[0]} x={dX(d[1]) + rad(d[3]) + (d[0] === "XAF1" ? 0 : 9.5)} y={dY(d[2]) + 9} fontSize={26} fill="#111">{d[0]}</text>
          ))}
          {/* frame */}
          <line x1={dX(0)} x2={dX(2.5) + 4} y1={dYHi(120)} y2={dYHi(120)} stroke="#000" strokeWidth={7.5} />
          <line x1={dX(2.5)} x2={dX(2.5)} y1={dYHi(120)} y2={dYLo(0) + 4} stroke="#000" strokeWidth={7.5} />
          <line x1={dX(0)} x2={dX(2.5)} y1={dYLo(0)} y2={dYLo(0)} stroke="#000" strokeWidth={8.5} />
          <line x1={dX(0)} x2={dX(0)} y1={dYHi(120) - 3.5} y2={dYHi(50)} stroke="#000" strokeWidth={8.5} />
          <line x1={dX(0)} x2={dX(0)} y1={dYLo(50)} y2={dYLo(0) + 4} stroke="#000" strokeWidth={8.5} />
          <line x1={dX(0) - 11.5} x2={dX(0) + 11.5} y1={dYHi(50)} y2={dYHi(50)} stroke="#000" strokeWidth={6} />
          <line x1={dX(0) - 11.5} x2={dX(0) + 11.5} y1={dYLo(50)} y2={dYLo(50)} stroke="#000" strokeWidth={6} />
          {minorLow.map((t) => (
            <line key={"dm" + t} x1={dX(0) - 12} x2={dX(0)} y1={dYLo(t)} y2={dYLo(t)} stroke="#000" strokeWidth={5.5} />
          ))}
          {bubbleTicksHigh.map((t) => (
            <g key={"dth" + t}>
              <line x1={dX(0) - 21} x2={dX(0)} y1={dYHi(t)} y2={dYHi(t)} stroke="#000" strokeWidth={6} />
              <text x={227} y={dYHi(t)} dy="0.36em" fontSize={34} fontWeight="bold" textAnchor="end">{t}</text>
            </g>
          ))}
          {bubbleTicksLow.map((t) => (
            <g key={"dtl" + t}>
              <line x1={dX(0) - 21} x2={dX(0)} y1={dYLo(t)} y2={dYLo(t)} stroke="#000" strokeWidth={6} />
              <text x={227} y={dYLo(t)} dy="0.36em" fontSize={34} fontWeight="bold" textAnchor="end">{t}</text>
            </g>
          ))}
          <PTitle x={142} y={1606} size={38} />

          {/* legend */}
          <text x={1149} y={1413} fontSize={38} fill="#1a1a1a">Category</text>
          {categories.map((c, i) => (
            <g key={"cl" + c}>
              <circle cx={1164} cy={1466 + i * 55.1} r={16} fill={catColors[c]} fillOpacity={c === "Other" ? 0.7 : 0.6}
                stroke={catColors[c]} strokeOpacity={0.55} strokeWidth={1.3} />
              <text x={1207} y={1466 + i * 55.1 + 13.4} fontSize={38} fill="#1a1a1a">{c}</text>
            </g>
          ))}
          <text x={1149} y={1860} fontSize={38} fill="#1a1a1a">
            Log<tspan fontSize={27} dy={9}>2</tspan>
            <tspan dy={-9}>(FC)</tspan>
          </text>
          {sizeLegendValues.map((v, i) => (
            <g key={"sl" + i}>
              <circle cx={1168} cy={1911 + i * 55} r={rScale(v)} fill="#000" />
              {i === 0 ? (
                <>
                  <text x={1215} y={1911 + 13.4} fontSize={38} fill="#1a1a1a">≤</text>
                  <text x={1262} y={1911 + 13.4} fontSize={38} fill="#1a1a1a">{sizeLegendLabels[i]}</text>
                </>
              ) : (
                <text x={1215} y={1911 + i * 55 + 13.4} fontSize={38} fill="#1a1a1a">{sizeLegendLabels[i]}</text>
              )}
            </g>
          ))}
        </g>
      </svg>
    </div>
  );
}
